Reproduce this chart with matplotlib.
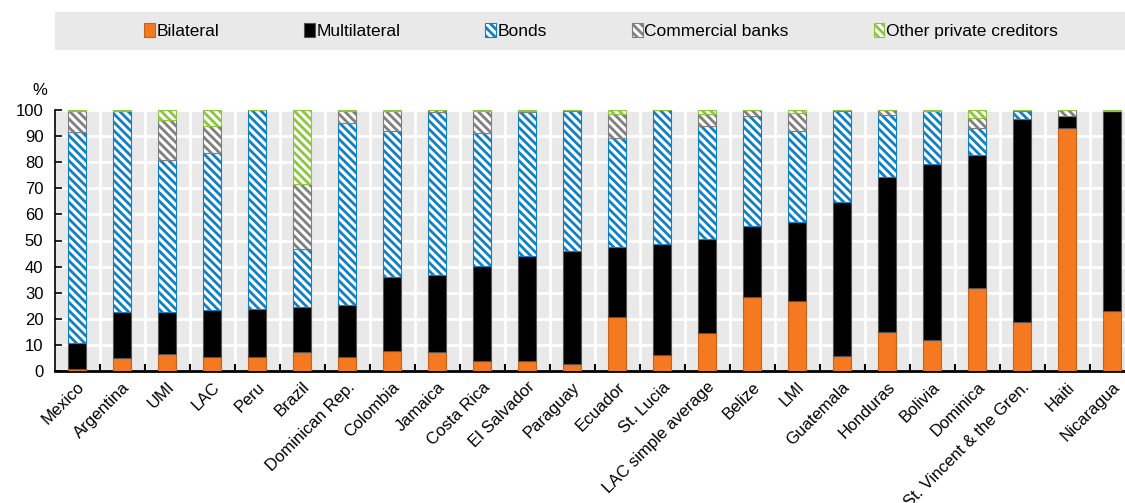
import numpy as np
import matplotlib
matplotlib.use('Agg')
import matplotlib.pyplot as plt

# Data (shares of external debt by creditor, %)
countries = ['Mexico', 'Argentina', 'UMI', 'LAC', 'Peru', 'Brazil', 'Dominican Rep.',
             'Colombia', 'Jamaica', 'Costa Rica', 'El Salvador', 'Paraguay', 'Ecuador',
             'St. Lucia', 'LAC simple average', 'Belize', 'LMI', 'Guatemala', 'Honduras',
             'Bolivia', 'Dominica', 'St. Vincent & the Gren.', 'Haiti', 'Nicaragua']
bilateral = [0.9, 5.1, 6.7, 5.4, 5.4, 7.3, 5.4, 7.7, 7.1, 3.9, 3.9, 2.8, 20.8,
             6.0, 14.5, 28.3, 26.8, 5.7, 14.8, 11.8, 31.9, 18.9, 93.1, 22.8]
multilateral = [9.7, 17.4, 15.8, 18.0, 18.4, 17.4, 19.7, 28.3, 29.8, 36.3, 40.1, 43.3, 26.8,
                42.5, 36.2, 27.4, 30.1, 58.9, 59.5, 67.6, 50.7, 77.6, 4.5, 76.7]
bonds = [80.8, 77.1, 58.2, 60.3, 76.2, 22.1, 69.8, 55.8, 62.2, 50.9, 55.1, 53.4, 41.5,
         51.5, 43.3, 42.1, 35.1, 34.9, 23.9, 20.3, 10.5, 3.0, 0.0, 0.0]
commercial = [8.1, 0.0, 15.6, 10.0, 0.0, 25.0, 4.6, 7.9, 0.9, 8.4, 0.6, 0.5, 9.4,
              0.0, 4.5, 2.2, 6.8, 0.5, 1.8, 0.0, 3.8, 0.5, 2.4, 0.0]
other = [0.5, 0.4, 3.7, 6.3, 0.0, 28.2, 0.5, 0.3, 0.0, 0.5, 0.3, 0.0, 1.5,
         0.0, 1.5, 0.0, 1.2, 0.0, 0.0, 0.3, 3.1, 0.0, 0.0, 0.5]

series = [
    ('Bilateral', bilateral, dict(color='#f47920', edgecolor='#c8641a')),
    ('Multilateral', multilateral, dict(color='black', edgecolor='#555555')),
    ('Bonds', bonds, dict(facecolor='white', edgecolor='#0f7fc6', hatch='\\\\\\\\')),
    ('Commercial banks', commercial, dict(facecolor='white', edgecolor='#7f7f7f', hatch='\\\\\\\\')),
    ('Other private creditors', other, dict(facecolor='white', edgecolor='#8cc63f', hatch='\\\\\\\\')),
]

plt.rcParams['font.family'] = ['Liberation Sans', 'DejaVu Sans']
plt.rcParams['hatch.linewidth'] = 2.0

fig = plt.figure(figsize=(11.25, 5.03), dpi=100)
ax = fig.add_axes([54.5 / 1125, 132 / 503, 24 * 45 / 1125, 261 / 503])
ax.set_facecolor('#e9e9e9')

x = np.arange(len(countries))
bottom = np.zeros(len(countries))
handles = []
for name, vals, style in series:
    vals = np.array(vals)
    b = ax.bar(x, vals, 0.42, bottom=bottom, linewidth=0.8, label=name, zorder=3, **style)
    handles.append(b)
    bottom += vals

ax.set_xlim(-0.5, len(countries) - 0.5)
ax.set_ylim(0, 100)
ax.set_yticks(range(0, 101, 10))
ax.set_xticks(x)
ax.set_xticklabels(countries, rotation=45, ha='right', rotation_mode='anchor', fontsize=12)
ax.set_xticks(x[:-1] + 0.5, minor=True)
ax.tick_params(axis='x', which='major', length=0, pad=6)
ax.tick_params(axis='x', which='minor', direction='in', length=5, width=1.5, color='black')
ax.tick_params(axis='y', direction='in', length=5, width=1.2, labelsize=12, pad=8)

ax.grid(axis='y', color='white', linewidth=2, zorder=0)
ax.grid(axis='x', which='minor', color='white', linewidth=2, zorder=0)
ax.set_axisbelow(True)
for s in ['top', 'right']:
    ax.spines[s].set_visible(False)
ax.spines['left'].set_linewidth(1.2)
ax.spines['bottom'].set_linewidth(2)

ax.text(-0.014, 1.045, '%', transform=ax.transAxes, fontsize=12, ha='center', va='bottom')

# legend strip
lax = fig.add_axes([55 / 1125, 453 / 503, 1070 / 1125, 38 / 503])
lax.set_facecolor('#e9e9e9')
lax.set_xticks([])
lax.set_yticks([])
for s in lax.spines.values():
    s.set_visible(False)
lax.legend(handles=handles, loc='center', bbox_to_anchor=(0.5 + 11 / 1070, 0.5), ncol=5,
           frameon=False, fontsize=12.5, handlelength=0.6, handleheight=0.9,
           handletextpad=0.1, columnspacing=4.9)

fig.savefig('out.png', dpi=100)
